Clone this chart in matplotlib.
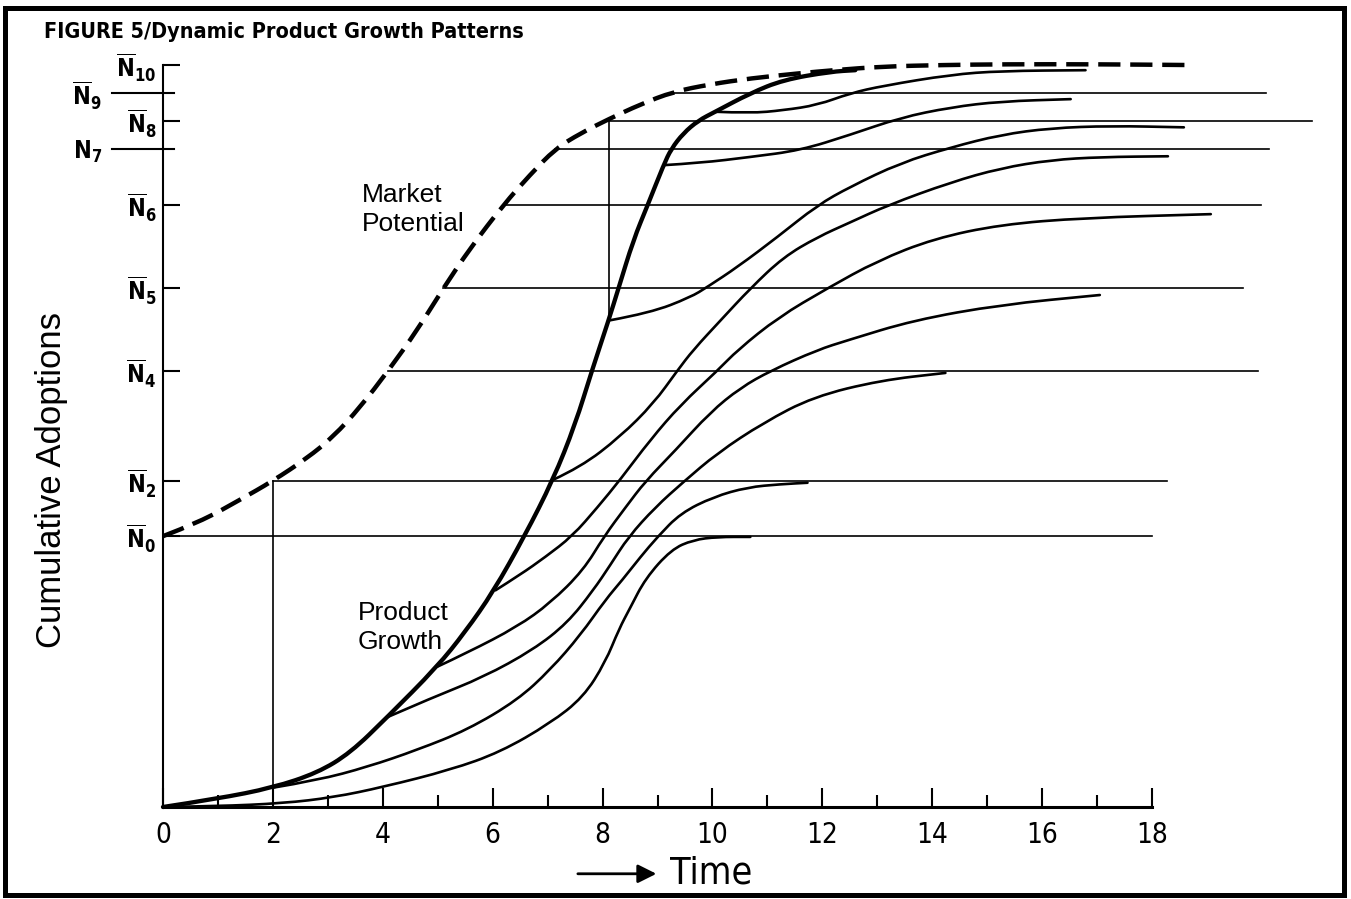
import matplotlib
matplotlib.use('Agg')
import matplotlib.pyplot as plt
from matplotlib.path import Path
from matplotlib.patches import PathPatch

plt.rcParams['font.family'] = ['Liberation Sans', 'DejaVu Sans']
plt.rcParams['mathtext.fontset'] = 'custom'
plt.rcParams['mathtext.rm'] = 'DejaVu Sans:stretch=condensed'
plt.rcParams['mathtext.bf'] = 'DejaVu Sans:bold:stretch=condensed'
plt.rcParams['mathtext.it'] = 'DejaVu Sans:italic:stretch=condensed'

## market potential levels N0 ... N10 (cumulative adoptions scale, N10 = 100)
N0, N2, N4, N5, N6, N7, N8, N9, N10 = 36.5, 44.0, 58.8, 70.0, 81.1, 88.7, 92.5, 96.2, 100.0

# horizontal level lines: level, start time (on the market potential curve), end time
line_levels = [N0, N2, N4, N5, N6, N7, N8, N9]
line_start = [0.0, 2.0, 4.1, 5.1, 6.19, 7.14, 8.11, 9.29]
line_end = [18.0, 18.27, 19.93, 19.65, 19.98, 20.13, 20.91, 20.07]

# y tick labels
major_levels = [N0, N2, N4, N5, N6, N8, N10]
major_labels = [r'$\overline{\mathbf{N}}_{\mathbf{0}}$', r'$\overline{\mathbf{N}}_{\mathbf{2}}$',
                r'$\overline{\mathbf{N}}_{\mathbf{4}}$', r'$\overline{\mathbf{N}}_{\mathbf{5}}$',
                r'$\overline{\mathbf{N}}_{\mathbf{6}}$', r'$\overline{\mathbf{N}}_{\mathbf{8}}$',
                r'$\overline{\mathbf{N}}_{\mathbf{10}}$']
minor_levels = [N7, N9]
minor_labels = [r'$\mathbf{N}_{\mathbf{7}}$', r'$\overline{\mathbf{N}}_{\mathbf{9}}$']

## market potential (dashed)
mp_t = [0, 0.67, 1.40, 1.99, 2.62, 3.10, 3.59, 4.10, 4.63, 5.10, 5.59, 6.19, 6.68, 7.14,
        7.60, 8.11, 8.69, 9.29, 9.96, 10.69, 11.60, 12.2, 13.1, 14.2, 15.3, 17.0, 18.6]
mp_y = [36.5, 38.4, 41.4, 43.9, 47.0, 49.9, 53.9, 58.8, 64.3, 69.9, 75.3, 81.1, 85.2, 88.7,
        90.8, 92.7, 94.7, 96.4, 97.4, 98.2, 98.9, 99.3, 99.8, 100.0, 100.1, 100.1, 100.0]

## product growth (thick)
pg_t = [0, 0.98, 2.0, 2.81, 3.41, 4.08, 4.99, 5.50, 6.01, 6.58, 7.10, 7.50, 7.81, 8.11,
        8.29, 8.56, 8.82, 9.11, 9.25, 9.47, 9.74, 10.05, 10.69, 11.29, 12.15, 12.6]
pg_y = [0, 1.1, 2.6, 4.6, 7.3, 12.1, 18.9, 23.6, 29.0, 36.5, 44.1, 51.5, 58.9, 65.6,
        69.9, 76.4, 81.1, 86.5, 88.7, 90.8, 92.5, 93.7, 96.2, 98.0, 99.1, 99.3]

## growth paths branching off the product growth curve
b0_t = [0, 0.98, 2.19, 3.10, 4.01, 5.23, 6.14, 7.05, 7.65, 8.05, 8.30, 8.50, 8.78, 9.25, 9.65, 10.09, 10.69]
b0_y = [0, 0.1, 0.5, 1.3, 2.7, 5.0, 7.4, 11.3, 14.8, 19.5, 24.0, 26.8, 30.8, 34.7, 36.0, 36.4, 36.4]

b2_t = [2.0, 2.81, 3.72, 4.63, 5.54, 6.45, 7.05, 7.60, 8.05, 8.36, 8.69, 9.00, 9.42, 10.02, 10.64, 11.24, 11.73]
b2_y = [2.6, 3.6, 5.4, 7.7, 10.4, 14.4, 18.5, 23.2, 27.9, 30.6, 33.7, 36.4, 39.6, 41.8, 43.1, 43.5, 43.7]

b4_t = [4.08, 4.92, 5.83, 6.74, 7.36, 7.83, 8.14, 8.47, 8.96, 9.47, 10.09, 10.93, 11.84, 13.06, 14.24]
b4_y = [12.1, 14.8, 17.5, 21.2, 24.8, 29.2, 32.6, 36.4, 40.4, 43.8, 47.7, 51.8, 55.3, 57.5, 58.5]

b5_t = [4.99, 5.54, 6.45, 7.05, 7.65, 8.03, 8.42, 8.78, 9.33, 9.96, 10.51, 11.06, 11.91, 12.46, 13.66, 15.25, 17.05]
b5_y = [18.9, 20.8, 24.3, 27.5, 31.9, 36.5, 40.4, 43.9, 48.1, 53.2, 56.5, 58.8, 61.6, 62.9, 65.6, 67.7, 69.0]

b6_t = [6.05, 6.50, 6.96, 7.45, 7.91, 8.32, 8.87, 9.42, 10.09, 10.46, 11.2, 12.09, 13.0, 14.03, 15.25, 16.76, 19.07]
b6_y = [29.2, 31.3, 33.7, 36.5, 40.4, 44.1, 49.5, 54.2, 58.8, 61.6, 66.0, 69.9, 73.6, 76.6, 78.5, 79.4, 79.9]

b7_t = [7.10, 7.60, 8.32, 8.93, 9.36, 9.65, 10.15, 10.69, 11.29, 11.91, 12.51, 13.19, 14.34, 15.25, 16.16, 17.07, 18.29]
b7_y = [44.1, 45.8, 49.9, 54.4, 58.8, 61.6, 65.6, 69.9, 74.1, 76.8, 78.8, 81.1, 84.2, 86.1, 87.2, 87.6, 87.7]

b8_t = [8.14, 8.87, 9.60, 9.91, 10.46, 11.18, 11.91, 12.51, 13.42, 14.34, 15.25, 16.16, 17.25, 18.58]
b8_y = [65.6, 66.6, 68.7, 70.1, 72.8, 76.8, 81.1, 83.6, 86.8, 88.9, 90.6, 91.5, 91.8, 91.6]

b9_t = [9.11, 9.78, 10.69, 11.60, 12.51, 13.42, 14.34, 15.25, 16.52]
b9_y = [86.5, 86.8, 87.6, 88.5, 90.6, 92.9, 94.3, 95.1, 95.4]

b10_t = [10.05, 10.69, 11.29, 11.91, 12.51, 13.11, 14.34, 15.25, 16.79]
b10_y = [93.7, 93.5, 93.9, 94.6, 96.2, 97.2, 98.7, 99.2, 99.3]

branches = [(b0_t, b0_y), (b2_t, b2_y), (b4_t, b4_y), (b5_t, b5_y), (b6_t, b6_y),
            (b7_t, b7_y), (b8_t, b8_y), (b9_t, b9_y), (b10_t, b10_y)]


def smooth_curve(ax, t, y, **kw):
    # quadratic bezier chain using the read points as control points
    verts = [(t[0], y[0])]
    codes = [Path.MOVETO]
    for i in range(1, len(t) - 1):
        verts += [(t[i], y[i]), ((t[i] + t[i + 1]) / 2, (y[i] + y[i + 1]) / 2)]
        codes += [Path.CURVE3, Path.CURVE3]
    verts.append((t[-1], y[-1]))
    codes.append(Path.LINETO)
    patch = PathPatch(Path(verts, codes), fill=False, edgecolor='k', clip_on=False, **kw)
    ax.add_patch(patch)
    return patch


W, H = 1351, 899
fig = plt.figure(figsize=(W / 100, H / 100), dpi=100)
ax = fig.add_axes([163 / W, (H - 807) / H, (1152 - 163) / W, (807 - 65) / H])
ax.set_xlim(0, 18)
ax.set_ylim(0, 100)

for s in ['top', 'right']:
    ax.spines[s].set_visible(False)
ax.spines['left'].set_linewidth(1.5)
ax.spines['bottom'].set_linewidth(2.2)

# x axis ticks
ax.set_xticks(range(0, 19, 2))
ax.set_xticks(range(1, 18, 2), minor=True)
ax.tick_params(axis='x', which='major', direction='in', length=13.5, width=1.5, pad=10, labelsize=20)
ax.tick_params(axis='x', which='minor', direction='in', length=9, width=1.5)
for lab in ax.get_xticklabels():
    lab.set_family('DejaVu Sans')
    lab.set_stretch('condensed')

# y axis ticks
ax.set_yticks(major_levels, labels=major_labels)
ax.set_yticks(minor_levels, labels=minor_labels, minor=True)
ax.tick_params(axis='y', which='major', direction='in', length=12, width=1.5, pad=5, labelsize=17)
ax.tick_params(axis='y', which='minor', length=0, pad=44, labelsize=17)

# long marks for N7 and N9 crossing the axis
for lv in minor_levels:
    ax.plot([-0.93, 0.2], [lv, lv], color='k', lw=1.5, clip_on=False)

# level lines
for lv, t0, t1 in zip(line_levels, line_start, line_end):
    ax.plot([t0, t1], [lv, lv], color='k', lw=1.2, clip_on=False)

# vertical drop lines
ax.plot([2.0, 2.0], [0, N2], color='k', lw=1.2)
ax.plot([8.12, 8.12], [65.6, N8], color='k', lw=1.2)

# market potential
smooth_curve(ax, mp_t, mp_y, lw=3.2, linestyle=(0, (5, 2.2)), capstyle='butt')

# branches
for bt, by in branches:
    smooth_curve(ax, bt, by, lw=1.9, joinstyle='round', capstyle='round')

# product growth
smooth_curve(ax, pg_t, pg_y, lw=3.1, joinstyle='round', capstyle='round')

# annotations
ax.text(3.62, 80.5, 'Market\nPotential', fontsize=19, ha='left', va='center', linespacing=1.25)
ax.text(3.55, 24.2, 'Product\nGrowth', fontsize=19, ha='left', va='center', linespacing=1.25)

ax.annotate('', xy=(9.03, -9.0), xytext=(7.5, -9.0),
            arrowprops=dict(arrowstyle='-|>', lw=2, color='k', mutation_scale=28),
            annotation_clip=False)
ax.text(9.23, -9.0, 'Time', fontsize=27, family='DejaVu Sans', fontstretch='condensed',
        ha='left', va='center')

fig.text(52 / W, 1 - 480 / H, 'Cumulative Adoptions', rotation=90, fontsize=25,
         ha='center', va='center')
fig.text(44 / W, 1 - 32 / H, 'FIGURE 5/Dynamic Product Growth Patterns', fontsize=15.5,
         family='DejaVu Sans', fontstretch='condensed', fontweight='bold', ha='left', va='center')

# frame around the figure
fig.add_artist(plt.Rectangle((5.5 / W, 4 / H), (1344 - 5.5) / W, (895 - 8) / H,
                             fill=False, lw=3.6, color='k', transform=fig.transFigure))

fig.savefig('out.png', dpi=100)
